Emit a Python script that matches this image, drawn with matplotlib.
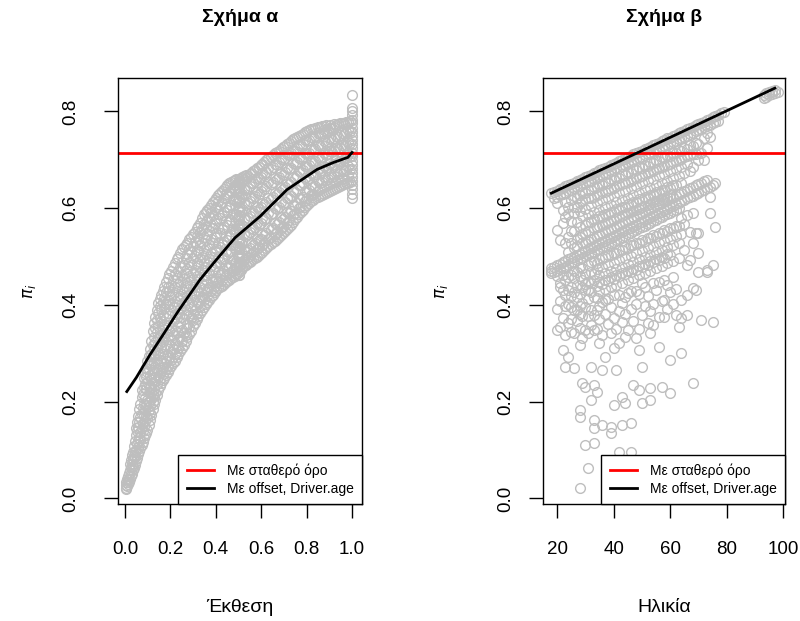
import matplotlib
matplotlib.use("Agg")
import matplotlib.pyplot as plt
from matplotlib.lines import Line2D

plt.rcParams['font.family'] = ['Liberation Sans', 'DejaVu Sans']

# --- panel a: fitted probability against exposure ---
expo_x = [0.003, 0.006, 0.010, 0.013, 0.017, 0.021, 0.025, 0.029, 0.034, 0.038,
          0.043, 0.048, 0.053, 0.058, 0.063, 0.068, 0.073, 0.078, 0.083, 0.088,
          0.093, 0.098, 0.104, 0.110, 0.116, 0.122, 0.128, 0.134, 0.140, 0.146,
          0.153, 0.160, 0.167, 0.174, 0.181, 0.188, 0.195, 0.203, 0.211, 0.219,
          0.227, 0.235, 0.243, 0.251, 0.259, 0.267, 0.275, 0.283, 0.291, 0.299,
          0.307, 0.315, 0.323, 0.331, 0.339, 0.347, 0.355, 0.363, 0.371, 0.379,
          0.387, 0.395, 0.403, 0.411, 0.419, 0.427, 0.435, 0.443, 0.451, 0.459,
          0.467, 0.475, 0.483, 0.491, 0.498, 0.500, 0.503, 0.509, 0.517, 0.525,
          0.533, 0.541, 0.549, 0.557, 0.565, 0.573, 0.581, 0.589, 0.597, 0.605,
          0.614, 0.623, 0.632, 0.641, 0.650, 0.659, 0.668, 0.677, 0.686, 0.695,
          0.704, 0.713, 0.722, 0.731, 0.740, 0.749, 0.758, 0.767, 0.776, 0.785,
          0.794, 0.803, 0.812, 0.821, 0.830, 0.839, 0.848, 0.857, 0.866, 0.875,
          0.884, 0.893, 0.902, 0.911, 0.920, 0.929, 0.938, 0.947, 0.956, 0.965,
          0.974, 0.983, 0.992, 1.000]
expo_pi = [
    [0.019, 0.027], [0.022, 0.034], [0.026, 0.041], [0.030, 0.047, 0.038],
    [0.034, 0.052], [0.041, 0.058, 0.071], [0.047, 0.066, 0.079],
    [0.051, 0.072, 0.090], [0.058, 0.081, 0.097, 0.068], [0.064, 0.088, 0.109],
    [0.070, 0.096, 0.118, 0.085], [0.077, 0.101, 0.131, 0.145],
    [0.083, 0.112, 0.139, 0.158], [0.091, 0.119, 0.147, 0.170, 0.106],
    [0.099, 0.126, 0.158, 0.184], [0.104, 0.137, 0.168, 0.195, 0.121],
    [0.111, 0.146, 0.174, 0.209, 0.225], [0.117, 0.155, 0.188, 0.216, 0.139],
    [0.124, 0.150, 0.196, 0.231, 0.172, 0.248],
    [0.131, 0.161, 0.207, 0.236, 0.183, 0.259],
    [0.136, 0.171, 0.193, 0.226, 0.251, 0.270],
    [0.141, 0.166, 0.204, 0.241, 0.262, 0.285],
    [0.152, 0.183, 0.217, 0.233, 0.268, 0.294, 0.199],
    [0.162, 0.191, 0.228, 0.256, 0.281, 0.309, 0.176],
    [0.173, 0.205, 0.219, 0.247, 0.275, 0.298, 0.325],
    [0.184, 0.213, 0.238, 0.266, 0.292, 0.318, 0.347, 0.199],
    [0.195, 0.226, 0.252, 0.281, 0.307, 0.334, 0.363, 0.211],
    [0.204, 0.219, 0.243, 0.272, 0.299, 0.323, 0.352, 0.375],
    [0.213, 0.236, 0.265, 0.288, 0.316, 0.344, 0.368, 0.389],
    [0.224, 0.251, 0.278, 0.301, 0.331, 0.357, 0.383, 0.403],
    [0.232, 0.247, 0.269, 0.296, 0.322, 0.349, 0.374, 0.398, 0.412],
    [0.238, 0.262, 0.287, 0.314, 0.338, 0.366, 0.391, 0.421],
    [0.244, 0.271, 0.299, 0.326, 0.351, 0.379, 0.407, 0.429, 0.258],
    [0.250, 0.279, 0.308, 0.334, 0.361, 0.393, 0.414, 0.438],
    [0.256, 0.285, 0.317, 0.343, 0.372, 0.401, 0.426, 0.447, 0.268],
    [0.262, 0.276, 0.297, 0.329, 0.358, 0.384, 0.411, 0.437, 0.455],
    [0.267, 0.291, 0.318, 0.347, 0.377, 0.402, 0.429, 0.463],
    [0.273, 0.302, 0.327, 0.352, 0.389, 0.416, 0.442, 0.470, 0.287],
    [0.279, 0.309, 0.338, 0.366, 0.395, 0.423, 0.451, 0.478],
    [0.285, 0.298, 0.321, 0.349, 0.381, 0.408, 0.437, 0.464, 0.487],
    [0.292, 0.316, 0.344, 0.372, 0.399, 0.428, 0.456, 0.494],
    [0.298, 0.327, 0.356, 0.383, 0.414, 0.443, 0.471, 0.500, 0.312],
    [0.304, 0.333, 0.362, 0.391, 0.419, 0.448, 0.479, 0.508],
    [0.311, 0.325, 0.349, 0.376, 0.405, 0.432, 0.461, 0.489, 0.515],
    [0.318, 0.343, 0.371, 0.397, 0.426, 0.454, 0.483, 0.519],
    [0.325, 0.352, 0.381, 0.410, 0.439, 0.466, 0.497, 0.523, 0.338],
    [0.333, 0.361, 0.389, 0.418, 0.446, 0.475, 0.505, 0.528],
    [0.340, 0.354, 0.377, 0.403, 0.432, 0.460, 0.488, 0.515, 0.536],
    [0.347, 0.374, 0.396, 0.425, 0.452, 0.483, 0.509, 0.541],
    [0.356, 0.382, 0.411, 0.437, 0.466, 0.496, 0.522, 0.547, 0.369],
    [0.363, 0.390, 0.418, 0.444, 0.472, 0.501, 0.531, 0.551],
    [0.370, 0.384, 0.406, 0.431, 0.459, 0.487, 0.514, 0.542, 0.558],
    [0.377, 0.403, 0.428, 0.453, 0.481, 0.509, 0.536, 0.564],
    [0.384, 0.410, 0.437, 0.466, 0.494, 0.523, 0.551, 0.570, 0.397],
    [0.390, 0.417, 0.443, 0.472, 0.499, 0.528, 0.557, 0.579],
    [0.396, 0.411, 0.432, 0.459, 0.486, 0.513, 0.541, 0.568, 0.587],
    [0.401, 0.427, 0.451, 0.478, 0.506, 0.534, 0.562, 0.592],
    [0.406, 0.433, 0.462, 0.491, 0.519, 0.547, 0.576, 0.596, 0.419],
    [0.411, 0.438, 0.466, 0.495, 0.524, 0.553, 0.582, 0.601],
    [0.416, 0.429, 0.452, 0.481, 0.508, 0.537, 0.566, 0.593, 0.607],
    [0.421, 0.447, 0.473, 0.499, 0.529, 0.558, 0.586, 0.612],
    [0.426, 0.452, 0.481, 0.512, 0.541, 0.569, 0.598, 0.617, 0.439],
    [0.431, 0.456, 0.486, 0.516, 0.546, 0.575, 0.603, 0.622],
    [0.434, 0.447, 0.469, 0.499, 0.529, 0.559, 0.588, 0.614, 0.627],
    [0.437, 0.462, 0.489, 0.519, 0.549, 0.579, 0.607, 0.631],
    [0.440, 0.466, 0.494, 0.526, 0.556, 0.585, 0.613, 0.635, 0.452],
    [0.443, 0.470, 0.498, 0.530, 0.561, 0.592, 0.620, 0.640],
    [0.447, 0.461, 0.482, 0.512, 0.542, 0.573, 0.603, 0.630, 0.644],
    [0.450, 0.477, 0.505, 0.534, 0.566, 0.597, 0.625, 0.648],
    [0.452, 0.479, 0.509, 0.541, 0.572, 0.602, 0.631, 0.651, 0.466],
    [0.455, 0.483, 0.512, 0.545, 0.576, 0.607, 0.635, 0.654],
    [0.458, 0.472, 0.493, 0.524, 0.556, 0.588, 0.618, 0.643, 0.656],
    [0.460, 0.487, 0.518, 0.550, 0.582, 0.614, 0.640, 0.658],
    [0.463, 0.491, 0.522, 0.555, 0.587, 0.619, 0.647, 0.661, 0.476],
    [0.466, 0.485, 0.504, 0.522, 0.541, 0.560, 0.579, 0.598, 0.617, 0.636,
     0.655],
    [0.461, 0.470, 0.480, 0.489, 0.499, 0.508, 0.518, 0.527, 0.537, 0.546,
     0.556, 0.565, 0.575, 0.584, 0.594, 0.603, 0.613, 0.622, 0.632, 0.641,
     0.651, 0.660],
    [0.462, 0.480, 0.497, 0.515, 0.532, 0.550, 0.567, 0.585, 0.602, 0.620,
     0.637, 0.654],
    [0.472, 0.499, 0.528, 0.561, 0.593, 0.625, 0.652, 0.663, 0.485],
    [0.476, 0.503, 0.533, 0.566, 0.598, 0.629, 0.656, 0.664],
    [0.480, 0.493, 0.514, 0.546, 0.578, 0.610, 0.640, 0.661, 0.667],
    [0.483, 0.510, 0.542, 0.575, 0.607, 0.637, 0.663, 0.669],
    [0.486, 0.513, 0.546, 0.579, 0.611, 0.642, 0.666, 0.499],
    [0.489, 0.518, 0.551, 0.583, 0.615, 0.645, 0.670],
    [0.491, 0.505, 0.527, 0.560, 0.592, 0.624, 0.652, 0.673],
    [0.494, 0.524, 0.556, 0.589, 0.621, 0.651, 0.676, 0.509],
    [0.497, 0.528, 0.561, 0.594, 0.626, 0.656, 0.679],
    [0.500, 0.515, 0.537, 0.570, 0.602, 0.634, 0.663, 0.683],
    [0.503, 0.534, 0.566, 0.599, 0.630, 0.660, 0.686, 0.519],
    [0.507, 0.537, 0.570, 0.603, 0.635, 0.664, 0.689],
    [0.510, 0.524, 0.547, 0.580, 0.611, 0.643, 0.672, 0.692],
    [0.514, 0.544, 0.576, 0.608, 0.640, 0.669, 0.695, 0.529],
    [0.518, 0.548, 0.580, 0.612, 0.645, 0.674, 0.699],
    [0.522, 0.536, 0.559, 0.591, 0.622, 0.654, 0.683, 0.703],
    [0.526, 0.556, 0.587, 0.619, 0.650, 0.680, 0.706, 0.540],
    [0.530, 0.560, 0.591, 0.623, 0.654, 0.685, 0.710],
    [0.533, 0.547, 0.570, 0.601, 0.632, 0.663, 0.692, 0.713],
    [0.537, 0.567, 0.598, 0.629, 0.660, 0.690, 0.716, 0.551],
    [0.541, 0.571, 0.602, 0.633, 0.664, 0.695, 0.719],
    [0.544, 0.558, 0.581, 0.612, 0.642, 0.673, 0.702, 0.723],
    [0.548, 0.578, 0.609, 0.639, 0.669, 0.700, 0.726, 0.562],
    [0.552, 0.582, 0.613, 0.643, 0.674, 0.704, 0.729],
    [0.556, 0.570, 0.592, 0.622, 0.652, 0.682, 0.711, 0.732],
    [0.561, 0.590, 0.620, 0.650, 0.680, 0.710, 0.735, 0.575],
    [0.566, 0.595, 0.625, 0.654, 0.684, 0.714, 0.738],
    [0.571, 0.585, 0.606, 0.635, 0.664, 0.693, 0.721, 0.742],
    [0.577, 0.605, 0.634, 0.662, 0.691, 0.719, 0.745, 0.590],
    [0.582, 0.610, 0.638, 0.667, 0.695, 0.724, 0.747],
    [0.587, 0.601, 0.621, 0.648, 0.676, 0.703, 0.730, 0.750],
    [0.592, 0.619, 0.647, 0.674, 0.702, 0.729, 0.752, 0.605],
    [0.597, 0.624, 0.651, 0.678, 0.706, 0.733, 0.754],
    [0.602, 0.615, 0.636, 0.662, 0.688, 0.714, 0.740, 0.757],
    [0.607, 0.633, 0.659, 0.685, 0.711, 0.738, 0.759, 0.620],
    [0.611, 0.637, 0.663, 0.689, 0.715, 0.741, 0.761],
    [0.614, 0.627, 0.648, 0.673, 0.698, 0.723, 0.748, 0.763],
    [0.617, 0.643, 0.668, 0.694, 0.720, 0.746, 0.764, 0.630],
    [0.620, 0.646, 0.671, 0.697, 0.723, 0.749, 0.766],
    [0.623, 0.636, 0.656, 0.681, 0.706, 0.731, 0.755, 0.767],
    [0.626, 0.651, 0.676, 0.702, 0.728, 0.753, 0.768, 0.639],
    [0.628, 0.654, 0.679, 0.705, 0.731, 0.756, 0.769],
    [0.630, 0.643, 0.664, 0.688, 0.713, 0.738, 0.761, 0.770],
    [0.632, 0.658, 0.683, 0.709, 0.735, 0.759, 0.771, 0.646],
    [0.634, 0.660, 0.686, 0.712, 0.738, 0.762],
    [0.636, 0.649, 0.670, 0.694, 0.719, 0.744, 0.766, 0.772],
    [0.638, 0.664, 0.690, 0.716, 0.741, 0.765, 0.652],
    [0.640, 0.666, 0.692, 0.718, 0.744, 0.768, 0.774],
    [0.642, 0.655, 0.676, 0.700, 0.725, 0.750, 0.771],
    [0.643, 0.670, 0.696, 0.722, 0.748, 0.773, 0.658],
    [0.645, 0.672, 0.698, 0.724, 0.751, 0.775],
    [0.647, 0.660, 0.681, 0.705, 0.730, 0.755, 0.776],
    [0.649, 0.676, 0.702, 0.728, 0.754, 0.777, 0.663],
    [0.651, 0.678, 0.704, 0.731, 0.757, 0.778],
    [0.653, 0.666, 0.687, 0.711, 0.736, 0.761, 0.779],
    [0.655, 0.681, 0.708, 0.734, 0.760, 0.780],
    [0.622, 0.630, 0.639, 0.647, 0.656, 0.664, 0.673, 0.681, 0.690, 0.698,
     0.707, 0.715, 0.724, 0.732, 0.741, 0.749, 0.758, 0.766, 0.775, 0.783,
     0.792, 0.800, 0.807, 0.834],
]
# smoothed curve of the offset model
curve_x = [0.008, 0.050, 0.110, 0.170, 0.233, 0.330, 0.400, 0.485, 0.595,
           0.713, 0.846, 0.916, 0.982, 1.000]
curve_pi = [0.221, 0.250, 0.297, 0.340, 0.386, 0.452, 0.492, 0.539, 0.583,
            0.638, 0.680, 0.694, 0.705, 0.715]

# --- panel b: fitted probability against driver age ---
age_x = list(range(18, 80)) + [93, 94, 95, 96, 97, 98]
age_pi = [
    [0.631, 0.476, 0.466, 0.470],
    [0.634, 0.622, 0.479, 0.468],
    [0.636, 0.623, 0.611, 0.555, 0.482, 0.471, 0.459, 0.348, 0.392],
    [0.639, 0.627, 0.534, 0.485, 0.474, 0.446, 0.437, 0.355, 0.408],
    [0.642, 0.629, 0.597, 0.569, 0.488, 0.477, 0.462, 0.431, 0.307, 0.372],
    [0.645, 0.632, 0.613, 0.581, 0.527, 0.491, 0.479, 0.452, 0.421, 0.272,
     0.338, 0.398],
    [0.647, 0.635, 0.603, 0.588, 0.541, 0.509, 0.494, 0.483, 0.458, 0.431,
     0.401, 0.293, 0.362],
    [0.650, 0.638, 0.616, 0.574, 0.552, 0.528, 0.497, 0.486, 0.462, 0.438,
     0.418, 0.396, 0.345, 0.371],
    [0.653, 0.641, 0.626, 0.603, 0.589, 0.553, 0.517, 0.500, 0.489, 0.471,
     0.455, 0.427, 0.270, 0.389, 0.341],
    [0.656, 0.643, 0.620, 0.603, 0.571, 0.536, 0.521, 0.503, 0.492, 0.468,
     0.441, 0.416, 0.389, 0.366],
    [0.658, 0.646, 0.627, 0.610, 0.594, 0.562, 0.541, 0.506, 0.495, 0.478,
     0.459, 0.423, 0.398, 0.317, 0.183, 0.168, 0.022, 0.352, 0.381],
    [0.661, 0.649, 0.633, 0.615, 0.583, 0.547, 0.527, 0.509, 0.498, 0.476,
     0.451, 0.437, 0.405, 0.239, 0.377, 0.331],
    [0.664, 0.652, 0.632, 0.619, 0.598, 0.565, 0.549, 0.529, 0.512, 0.501,
     0.463, 0.444, 0.431, 0.348, 0.231, 0.111, 0.395],
    [0.667, 0.654, 0.637, 0.621, 0.587, 0.572, 0.552, 0.532, 0.515, 0.504,
     0.482, 0.448, 0.412, 0.378, 0.063, 0.341, 0.431],
    [0.669, 0.657, 0.638, 0.622, 0.604, 0.571, 0.536, 0.518, 0.507, 0.488,
     0.469, 0.446, 0.426, 0.272, 0.203, 0.389, 0.358],
    [0.672, 0.660, 0.644, 0.624, 0.592, 0.577, 0.558, 0.539, 0.521, 0.510,
     0.491, 0.464, 0.452, 0.417, 0.348, 0.234, 0.162, 0.146, 0.115, 0.379],
    [0.675, 0.662, 0.643, 0.627, 0.611, 0.577, 0.561, 0.542, 0.524, 0.513,
     0.486, 0.474, 0.439, 0.389, 0.220, 0.351, 0.414],
    [0.678, 0.665, 0.649, 0.629, 0.597, 0.583, 0.563, 0.545, 0.527, 0.516,
     0.495, 0.461, 0.448, 0.428, 0.321, 0.371, 0.397],
    [0.680, 0.668, 0.648, 0.633, 0.616, 0.582, 0.566, 0.548, 0.530, 0.519,
     0.497, 0.478, 0.444, 0.406, 0.265, 0.152, 0.338],
    [0.683, 0.671, 0.654, 0.634, 0.602, 0.588, 0.568, 0.551, 0.533, 0.522,
     0.499, 0.466, 0.452, 0.433, 0.293, 0.382, 0.411],
    [0.686, 0.673, 0.653, 0.637, 0.621, 0.587, 0.571, 0.554, 0.536, 0.525,
     0.503, 0.482, 0.449, 0.412, 0.361],
    [0.689, 0.676, 0.660, 0.639, 0.607, 0.593, 0.574, 0.557, 0.539, 0.528,
     0.503, 0.470, 0.457, 0.437, 0.148, 0.135, 0.395, 0.342],
    [0.691, 0.679, 0.658, 0.642, 0.626, 0.592, 0.576, 0.560, 0.542, 0.531,
     0.508, 0.487, 0.454, 0.311, 0.193, 0.373, 0.421],
    [0.694, 0.682, 0.665, 0.645, 0.612, 0.598, 0.579, 0.563, 0.545, 0.534,
     0.508, 0.475, 0.461, 0.441, 0.265, 0.351],
    [0.697, 0.684, 0.663, 0.647, 0.631, 0.597, 0.581, 0.566, 0.548, 0.537,
     0.514, 0.492, 0.459, 0.420, 0.321, 0.096, 0.387],
    [0.700, 0.687, 0.670, 0.650, 0.617, 0.603, 0.584, 0.569, 0.551, 0.540,
     0.513, 0.479, 0.466, 0.446, 0.210, 0.152, 0.365, 0.404],
    [0.702, 0.690, 0.668, 0.652, 0.636, 0.602, 0.587, 0.572, 0.554, 0.543,
     0.519, 0.497, 0.463, 0.334, 0.197, 0.417, 0.381],
    [0.705, 0.693, 0.675, 0.655, 0.622, 0.608, 0.589, 0.575, 0.557, 0.546,
     0.518, 0.484, 0.470, 0.451, 0.424, 0.349],
    [0.708, 0.695, 0.673, 0.657, 0.641, 0.607, 0.592, 0.578, 0.560, 0.549,
     0.524, 0.502, 0.468, 0.156, 0.096, 0.392, 0.428],
    [0.711, 0.698, 0.680, 0.660, 0.627, 0.613, 0.594, 0.581, 0.563, 0.552,
     0.523, 0.489, 0.475, 0.456, 0.234, 0.366],
    [0.713, 0.701, 0.678, 0.662, 0.646, 0.612, 0.597, 0.584, 0.566, 0.555,
     0.529, 0.507, 0.473, 0.429, 0.332, 0.401],
    [0.716, 0.704, 0.685, 0.665, 0.632, 0.618, 0.599, 0.587, 0.569, 0.558,
     0.528, 0.494, 0.480, 0.461, 0.307, 0.224, 0.351, 0.423],
    [0.719, 0.706, 0.683, 0.667, 0.651, 0.617, 0.602, 0.590, 0.572, 0.561,
     0.534, 0.512, 0.478, 0.272, 0.197, 0.379, 0.446],
    [0.722, 0.709, 0.690, 0.670, 0.637, 0.623, 0.604, 0.593, 0.575, 0.564,
     0.533, 0.499, 0.485, 0.466, 0.437, 0.398],
    [0.724, 0.712, 0.688, 0.672, 0.656, 0.622, 0.607, 0.596, 0.578, 0.567,
     0.539, 0.517, 0.483, 0.362, 0.418],
    [0.727, 0.715, 0.695, 0.675, 0.642, 0.628, 0.609, 0.599, 0.581, 0.570,
     0.538, 0.504, 0.490, 0.471, 0.342, 0.228, 0.203, 0.387],
    [0.730, 0.717, 0.693, 0.677, 0.661, 0.627, 0.612, 0.602, 0.584, 0.573,
     0.544, 0.522, 0.488, 0.445, 0.402, 0.359],
    [0.733, 0.720, 0.700, 0.680, 0.647, 0.633, 0.614, 0.605, 0.587, 0.576,
     0.543, 0.509, 0.495, 0.476, 0.431],
    [0.735, 0.723, 0.698, 0.682, 0.666, 0.632, 0.617, 0.608, 0.590, 0.579,
     0.549, 0.527, 0.493, 0.313, 0.376, 0.448],
    [0.738, 0.726, 0.705, 0.685, 0.652, 0.638, 0.619, 0.611, 0.593, 0.582,
     0.548, 0.514, 0.500, 0.481, 0.231, 0.409],
    [0.741, 0.728, 0.703, 0.687, 0.671, 0.637, 0.622, 0.614, 0.596, 0.585,
     0.554, 0.532, 0.498, 0.452, 0.410, 0.375],
    [0.744, 0.731, 0.710, 0.690, 0.657, 0.643, 0.624, 0.617, 0.599, 0.588,
     0.553, 0.519, 0.505, 0.486, 0.392, 0.441],
    [0.746, 0.734, 0.708, 0.692, 0.676, 0.642, 0.627, 0.620, 0.602, 0.591,
     0.559, 0.537, 0.503, 0.286, 0.218, 0.427],
    [0.749, 0.737, 0.715, 0.695, 0.662, 0.648, 0.623, 0.605, 0.594, 0.558,
     0.524, 0.491, 0.457, 0.401],
    [0.752, 0.739, 0.713, 0.697, 0.681, 0.647, 0.626, 0.608, 0.597, 0.564,
     0.542, 0.379, 0.433],
    [0.755, 0.742, 0.720, 0.700, 0.667, 0.629, 0.611, 0.600, 0.563, 0.529,
     0.496, 0.354],
    [0.757, 0.745, 0.718, 0.702, 0.686, 0.652, 0.632, 0.614, 0.580, 0.546,
     0.410, 0.300, 0.372],
    [0.760, 0.748, 0.725, 0.705, 0.672, 0.635, 0.617, 0.568, 0.513],
    [0.763, 0.750, 0.723, 0.707, 0.691, 0.638, 0.620, 0.585, 0.482, 0.379,
     0.421],
    [0.766, 0.753, 0.730, 0.710, 0.677, 0.641, 0.623, 0.551, 0.493],
    [0.768, 0.756, 0.728, 0.712, 0.685, 0.644, 0.626, 0.590, 0.528, 0.435,
     0.238],
    [0.771, 0.759, 0.735, 0.711, 0.647, 0.629, 0.548, 0.430],
    [0.774, 0.761, 0.733, 0.700, 0.650, 0.632, 0.548, 0.507, 0.468],
    [0.777, 0.764, 0.715, 0.653, 0.635, 0.369],
    [0.779, 0.767, 0.745, 0.700, 0.656, 0.638],
    [0.782, 0.770, 0.755, 0.724, 0.659, 0.641, 0.468, 0.472],
    [0.785, 0.772, 0.747, 0.624, 0.644, 0.590],
    [0.788, 0.775, 0.648, 0.365, 0.482],
    [0.790, 0.778, 0.652, 0.561],
    [0.793, 0.781], [0.796], [0.799],
    [0.828, 0.834], [0.830, 0.837], [0.833, 0.840], [0.836, 0.842],
    [0.838, 0.845], [0.840],
]
line_age = [18, 45, 97]
line_pi = [0.631, 0.705, 0.848]

const_pi = 0.714  # intercept-only model

legend_labels = ['Με σταθερό όρο', 'Με offset, Driver.age']
GREY = '#BEBEBE'

assert len(expo_x) == len(expo_pi)
assert len(age_x) == len(age_pi)


def flatten(xs, cols):
    px, py = [], []
    for x, col in zip(xs, cols):
        px.extend([x] * len(col))
        py.extend(col)
    return px, py


def style_axes(ax, ylab_pad):
    for s in ax.spines.values():
        s.set_linewidth(1.0)
        s.set_color('black')
    ax.tick_params(direction='out', length=10, width=1.0, labelsize=13.5,
                   colors='black')
    ax.tick_params(axis='x', pad=17)
    ax.tick_params(axis='y', pad=ylab_pad, labelrotation=90)
    ax.set_yticks([0.0, 0.2, 0.4, 0.6, 0.8])
    ax.set_yticklabels(['0.0', '0.2', '0.4', '0.6', '0.8'], va='center')
    ax.set_ylim(-0.0114, 0.869)


def add_legend(ax):
    handles = [Line2D([], [], color='red', lw=2),
               Line2D([], [], color='black', lw=2)]
    leg = ax.legend(handles, legend_labels, loc='lower right',
                    borderaxespad=0, fancybox=False, framealpha=1,
                    edgecolor='black', fontsize=10, handlelength=2.0,
                    handletextpad=0.9, borderpad=0.6, labelspacing=0.25)
    leg.get_frame().set_linewidth(1.0)


fig = plt.figure(figsize=(8, 6.21), dpi=100)
W, H = 800, 621
ax1 = fig.add_axes([118 / W, 1 - 504 / H, 244 / W, 426 / H])
ax2 = fig.add_axes([543 / W, 1 - 504 / H, 242 / W, 426 / H])

# panel a
px, py = flatten(expo_x, expo_pi)
ax1.plot(px, py, 'o', mfc='none', mec=GREY, ms=7.0, mew=1.0)
ax1.axhline(const_pi, color='red', lw=2)
ax1.plot(curve_x, curve_pi, color='black', lw=2)
ax1.set_xlim(-0.0308, 1.044)
ax1.set_xticks([0.0, 0.2, 0.4, 0.6, 0.8, 1.0])
ax1.set_xticklabels(['0.0', '0.2', '0.4', '0.6', '0.8', '1.0'])
style_axes(ax1, 18)
add_legend(ax1)

# panel b
px, py = flatten(age_x, age_pi)
ax2.plot(px, py, 'o', mfc='none', mec=GREY, ms=7.0, mew=1.0)
ax2.axhline(const_pi, color='red', lw=2)
ax2.plot(line_age, line_pi, color='black', lw=2)
ax2.set_xlim(15.05, 100.6)
ax2.set_xticks([20, 40, 60, 80, 100])
style_axes(ax2, 11)
add_legend(ax2)

fig.text(240 / W, 1 - 18 / H, 'Σχήμα α', ha='center', va='center',
         fontsize=14, fontweight='bold')
fig.text(664 / W, 1 - 18 / H, 'Σχήμα β', ha='center', va='center',
         fontsize=14, fontweight='bold')
fig.text(240 / W, 1 - 608 / H, 'Έκθεση', ha='center', va='center', fontsize=14)
fig.text(664 / W, 1 - 608 / H, 'Ηλικία', ha='center', va='center', fontsize=14)
fig.text(30 / W, 1 - 291 / H, r'$\pi_i$', ha='center', va='center',
         rotation=90, fontsize=12)
fig.text(441 / W, 1 - 291 / H, r'$\pi_i$', ha='center', va='center',
         rotation=90, fontsize=12)

fig.savefig('out.png', dpi=100)
